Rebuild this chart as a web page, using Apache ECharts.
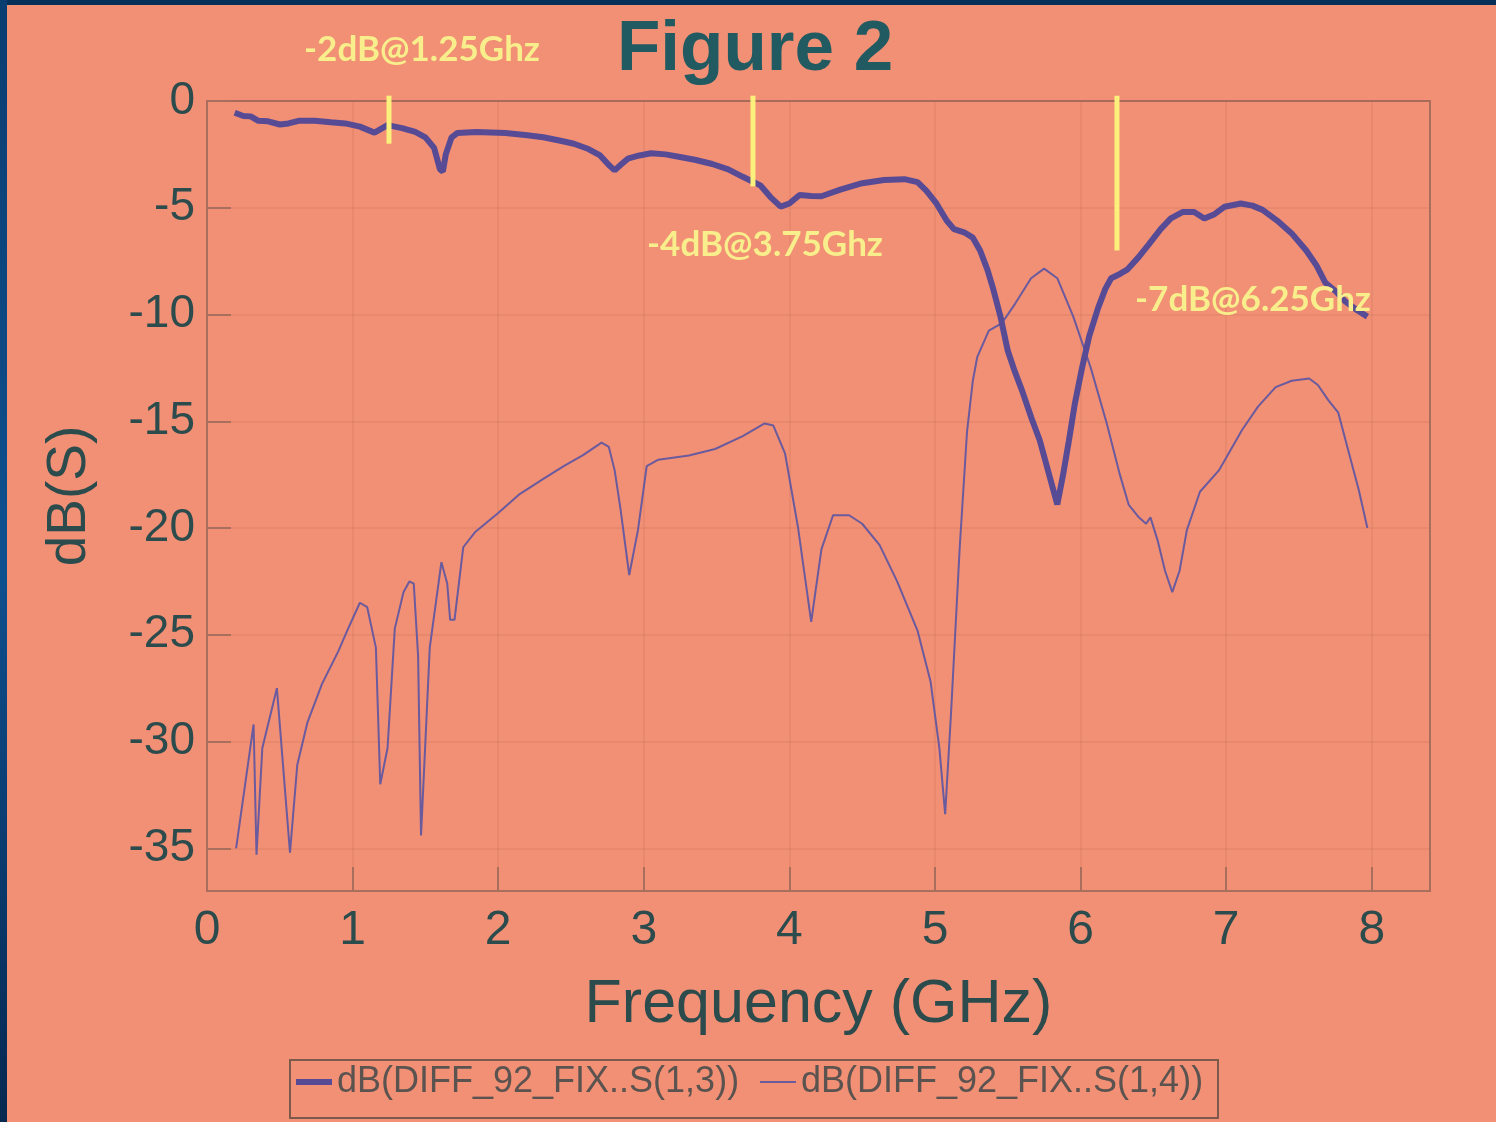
<!DOCTYPE html>
<html>
<head>
<meta charset="utf-8">
<script src="https://cdn.jsdelivr.net/npm/echarts@6/dist/echarts.min.js"></script>
<style>
  html, body { margin: 0; padding: 0; background: #F29075; }
  #chart { width: 1496px; height: 1122px; }
</style>
</head>
<body>
<div id="chart"></div>
<script>
// Axis ticks
const freqTicks = [0, 1, 2, 3, 4, 5, 6, 7, 8];
const dbTicks = [0, -5, -10, -15, -20, -25, -30, -35];

// Series names
const nameS13 = 'dB(DIFF_92_FIX..S(1,3))';
const nameS14 = 'dB(DIFF_92_FIX..S(1,4))';

// S(1,3): differential insertion loss, [GHz, dB]
const s13 = [
  [0.19,-0.55],[0.25,-0.7],[0.3,-0.72],[0.35,-0.92],[0.42,-0.95],[0.5,-1.1],[0.56,-1.05],
  [0.63,-0.93],[0.74,-0.93],[0.85,-1.0],[0.95,-1.05],[1.05,-1.2],[1.15,-1.48],[1.24,-1.13],
  [1.34,-1.27],[1.43,-1.45],[1.5,-1.7],[1.56,-2.2],[1.6,-3.2],[1.62,-3.3],[1.64,-2.5],
  [1.68,-1.7],[1.72,-1.5],[1.85,-1.45],[2.05,-1.5],[2.2,-1.6],[2.31,-1.7],[2.42,-1.85],
  [2.52,-2.0],[2.62,-2.25],[2.7,-2.55],[2.76,-3.0],[2.8,-3.25],[2.84,-3.0],[2.89,-2.7],
  [2.97,-2.55],[3.05,-2.45],[3.15,-2.5],[3.23,-2.6],[3.35,-2.75],[3.47,-2.95],[3.58,-3.2],
  [3.68,-3.55],[3.8,-3.95],[3.87,-4.5],[3.94,-4.95],[4.0,-4.8],[4.07,-4.4],[4.15,-4.45],
  [4.22,-4.46],[4.35,-4.15],[4.5,-3.85],[4.65,-3.7],[4.79,-3.66],[4.88,-3.8],[4.94,-4.2],
  [5.01,-4.8],[5.08,-5.6],[5.13,-6.0],[5.2,-6.15],[5.26,-6.4],[5.31,-7.0],[5.36,-7.9],
  [5.4,-8.8],[5.45,-10.1],[5.5,-11.7],[5.55,-12.7],[5.6,-13.6],[5.66,-14.8],[5.72,-15.9],
  [5.78,-17.4],[5.84,-18.9],[5.88,-17.5],[5.92,-15.9],[5.96,-14.2],[6.01,-12.5],[6.06,-11.0],
  [6.12,-9.7],[6.17,-8.8],[6.21,-8.3],[6.27,-8.1],[6.32,-7.9],[6.4,-7.3],[6.47,-6.7],
  [6.55,-6.0],[6.62,-5.5],[6.7,-5.2],[6.78,-5.2],[6.85,-5.5],[6.92,-5.3],[6.99,-4.95],
  [7.1,-4.8],[7.18,-4.9],[7.25,-5.1],[7.35,-5.6],[7.45,-6.2],[7.55,-7.0],[7.62,-7.7],
  [7.68,-8.5],[7.75,-8.9],[7.82,-9.4],[7.9,-9.8],[7.97,-10.1]
];

// S(1,4): differential crosstalk, [GHz, dB]
const s14 = [
  [0.2,-35],[0.32,-29.2],[0.34,-35.3],[0.38,-30.3],[0.48,-27.5],[0.57,-35.2],[0.62,-31.1],
  [0.69,-29.1],[0.79,-27.3],[0.9,-25.8],[0.97,-24.7],[1.05,-23.5],[1.1,-23.7],[1.16,-25.6],
  [1.19,-32.0],[1.24,-30.3],[1.29,-24.7],[1.35,-23.0],[1.39,-22.5],[1.42,-22.6],[1.45,-26.0],
  [1.47,-34.4],[1.53,-25.6],[1.61,-21.6],[1.65,-22.6],[1.67,-24.3],[1.7,-24.3],[1.76,-20.9],
  [1.84,-20.2],[2.0,-19.3],[2.15,-18.4],[2.31,-17.7],[2.45,-17.1],[2.58,-16.6],[2.71,-16.0],
  [2.76,-16.2],[2.8,-17.3],[2.84,-19.1],[2.9,-22.2],[2.96,-20.1],[3.02,-17.1],[3.1,-16.8],
  [3.31,-16.6],[3.49,-16.3],[3.68,-15.7],[3.83,-15.1],[3.89,-15.2],[3.97,-16.5],[4.06,-20.0],
  [4.15,-24.4],[4.22,-21.0],[4.3,-19.4],[4.41,-19.4],[4.5,-19.8],[4.62,-20.8],[4.74,-22.5],
  [4.88,-24.8],[4.97,-27.2],[5.03,-30.3],[5.07,-33.4],[5.11,-28.7],[5.17,-20.9],[5.22,-15.5],
  [5.26,-13.1],[5.29,-12.0],[5.37,-10.75],[5.46,-10.4],[5.55,-9.5],[5.66,-8.3],[5.75,-7.85],
  [5.84,-8.3],[5.95,-10.1],[6.07,-12.5],[6.18,-15.1],[6.27,-17.5],[6.33,-18.9],[6.4,-19.5],
  [6.45,-19.8],[6.48,-19.5],[6.53,-20.6],[6.58,-22.0],[6.63,-23.0],[6.68,-22.0],[6.73,-20.1],
  [6.82,-18.3],[6.95,-17.3],[7.11,-15.4],[7.22,-14.3],[7.34,-13.4],[7.45,-13.1],[7.57,-13.0],
  [7.63,-13.3],[7.7,-14.0],[7.77,-14.6],[7.84,-16.4],[7.91,-18.2],[7.97,-20.0]
];

// Loss markers called out on the plot
const markerFreqs = [1.25, 3.75, 6.25];
const markerLoss = [-2, -4, -7];
const markerTexts = ['-2dB@1.25Ghz', '-4dB@3.75Ghz', '-7dB@6.25Ghz'];

const tickColor = '#2C4B4D';
const frameColor = '#A86E5E';
const gridColor = 'rgba(170,90,70,0.13)';
const yellow = '#FBF07C';
const colS13 = '#574B95';
const colS14 = '#6A5A9E';

const markerSeries = markerFreqs.map((f, i) => ({
  type: 'line',
  name: 'marker' + i,
  data: [[f, 0.25], [f, markerLoss[i]]],
  symbol: 'none',
  clip: false,
  silent: true,
  z: 5,
  lineStyle: { color: yellow, width: 5 },
  tooltip: { show: false }
}));

const annoStyle = { fill: '#F8EE8C', font: 'bold 35px Lato, "Noto Sans", sans-serif' };
const legendText = { fontSize: 36, color: '#5B5350', fontFamily: 'Liberation Sans' };

const chart = echarts.init(document.getElementById('chart'), null, { renderer: 'canvas' });
chart.setOption({
  backgroundColor: '#F29075',
  animation: false,
  grid: {
    left: 207, top: 101, width: 1223, height: 790,
    show: true, borderColor: frameColor, borderWidth: 2, backgroundColor: 'transparent'
  },
  xAxis: {
    type: 'value', min: 0, max: 8.4,
    name: 'Frequency (GHz)', nameLocation: 'middle', nameGap: 84,
    nameTextStyle: { fontSize: 61, color: tickColor, fontFamily: 'Liberation Sans' },
    axisLine: { show: true, onZero: false, lineStyle: { color: frameColor, width: 2 } },
    axisTick: { show: true, inside: true, length: 24, customValues: freqTicks, lineStyle: { color: frameColor, width: 2 } },
    axisLabel: { customValues: freqTicks, margin: 16, fontSize: 48, color: tickColor, fontFamily: 'Liberation Sans' },
    splitLine: { show: true, lineStyle: { color: gridColor, width: 2 } }
  },
  yAxis: {
    type: 'value', min: -37, max: 0,
    name: 'dB(S)', nameLocation: 'middle', nameGap: 110,
    nameTextStyle: { fontSize: 55, color: tickColor, fontFamily: 'Liberation Sans' },
    axisLine: { show: true, onZero: false, lineStyle: { color: frameColor, width: 2 } },
    axisTick: { show: true, inside: true, length: 24, customValues: dbTicks, lineStyle: { color: frameColor, width: 2 } },
    axisLabel: { customValues: dbTicks, margin: 12, fontSize: 46, color: tickColor, fontFamily: 'Liberation Sans' },
    splitLine: { show: true, lineStyle: { color: gridColor, width: 2 } }
  },
  legend: [
    {
      data: [{ name: nameS13, icon: 'rect' }],
      left: 296, top: 1064, padding: 0,
      itemWidth: 36, itemHeight: 6,
      itemStyle: { color: colS13 },
      textStyle: legendText
    },
    {
      data: [{ name: nameS14, icon: 'rect' }],
      left: 760, top: 1064, padding: 0,
      itemWidth: 36, itemHeight: 2,
      itemStyle: { color: colS14 },
      textStyle: legendText
    }
  ],
  series: [
    {
      type: 'line', name: nameS14, data: s14, symbol: 'none', z: 2,
      lineStyle: { color: colS14, width: 2 }, itemStyle: { color: colS14 }
    },
    {
      type: 'line', name: nameS13, data: s13, symbol: 'none', z: 3,
      lineStyle: { color: colS13, width: 6 }, itemStyle: { color: colS13 }
    }
  ].concat(markerSeries),
  graphic: [
    { type: 'rect', shape: { x: 0, y: 0, width: 1496, height: 5 }, style: { fill: '#05305A' }, z: 100 },
    { type: 'rect', shape: { x: 0, y: 0, width: 7, height: 1122 },
      style: { fill: new echarts.graphic.LinearGradient(0, 0, 0, 1, [
        { offset: 0, color: '#0A3D70' }, { offset: 0.5, color: '#0E508F' }, { offset: 1, color: '#062850' }
      ]) }, z: 100 },
    // legend frame
    { type: 'rect', shape: { x: 290, y: 1060, width: 928, height: 58 },
      style: { fill: 'none', stroke: '#7C5A4C', lineWidth: 2 }, z: 50, silent: true },
    { type: 'text', left: 617, top: 15, style: { text: 'Figure 2', fill: '#215A60', font: 'bold 71px "Liberation Sans", Arial, sans-serif' }, z: 50 },
    { type: 'text', x: 422, y: 50, style: Object.assign({ text: markerTexts[0], align: 'center', verticalAlign: 'middle' }, annoStyle), z: 50 },
    { type: 'text', x: 765, y: 245, style: Object.assign({ text: markerTexts[1], align: 'center', verticalAlign: 'middle' }, annoStyle), z: 50 },
    { type: 'text', x: 1253, y: 300, style: Object.assign({ text: markerTexts[2], align: 'center', verticalAlign: 'middle' }, annoStyle), z: 50 }
  ]
});
</script>
</body>
</html>
